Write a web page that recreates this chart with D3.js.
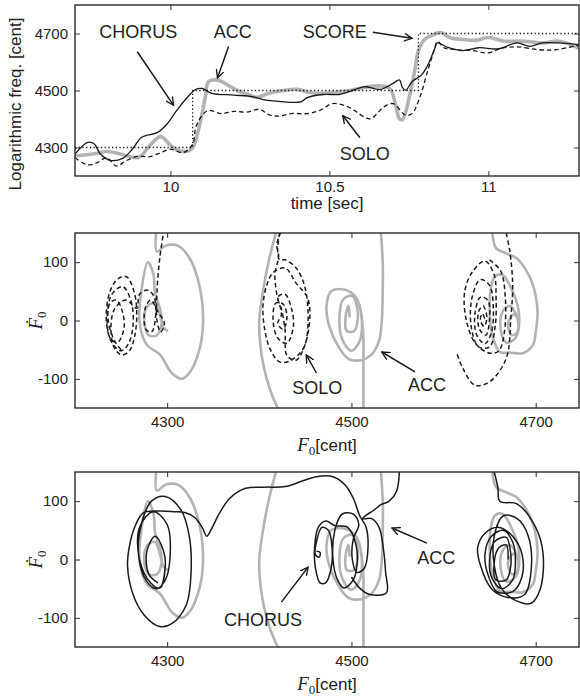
<!DOCTYPE html>
<html>
<head>
<meta charset="utf-8">
<script src="https://cdn.jsdelivr.net/npm/d3@7"></script>
<style>
  body { margin: 0; background: #fff; }
  svg { font-family: "Liberation Sans", Arial, sans-serif; }
  .tick text { font-size: 15px; fill: #222; font-family: "Liberation Sans", Arial, sans-serif; }
  .tick line { stroke: #333; stroke-width: 1; }
  .note { font-size: 18px; fill: #222; text-anchor: middle; dominant-baseline: central; }
</style>
</head>
<body>
<script>
// ---- data ----
var timeTicks = [10, 10.5, 11];
var centTicks = [4300, 4500, 4700];
var velTicks = [-100, 0, 100];
var f0Ticks = [4300, 4500, 4700];

// score: note start times and pitch (step)
var scoreSteps = [[9.7, 4300], [10.07, 4500], [10.78, 4700], [11.285, 4700]];

var accTime = [[9.70,4270],[9.76,4278],[9.80,4286],[9.86,4272],[9.90,4265],[9.94,4313],[9.97,4338],[10.00,4308],[10.02,4292],[10.05,4286],[10.07,4299],
  [10.09,4370],[10.11,4477],[10.12,4531],[10.15,4536],[10.19,4513],[10.22,4495],[10.25,4484],[10.27,4476],[10.31,4490],[10.35,4499],
  [10.40,4504],[10.43,4495],[10.47,4490],[10.52,4494],[10.56,4499],[10.61,4511],[10.66,4516],[10.69,4507],[10.71,4442],[10.72,4401],
  [10.73,4398],[10.75,4470],[10.77,4580],[10.78,4640],[10.80,4680],[10.82,4692],[10.85,4703],[10.88,4685],[10.92,4679],[10.96,4676],
  [11.00,4686],[11.05,4673],[11.11,4673],[11.17,4667],[11.22,4673],[11.26,4661],[11.285,4648]];

var chorusTime = [[9.70,4277],[9.74,4318],[9.76,4313],[9.78,4277],[9.81,4255],[9.85,4262],[9.88,4294],[9.91,4336],[9.96,4353],[9.99,4383],
  [10.02,4430],[10.05,4472],[10.08,4504],[10.10,4507],[10.13,4490],[10.20,4484],[10.26,4478],[10.30,4466],[10.34,4462],[10.41,4460],
  [10.43,4475],[10.48,4486],[10.53,4486],[10.56,4495],[10.61,4513],[10.66,4504],[10.70,4525],[10.72,4537],[10.73,4510],[10.74,4501],
  [10.76,4531],[10.79,4555],[10.81,4590],[10.83,4643],[10.84,4667],[10.87,4652],[10.92,4640],[10.97,4650],[11.03,4646],[11.09,4667],
  [11.13,4655],[11.17,4667],[11.22,4667],[11.285,4661]];

var soloTime = [[9.70,4264],[9.74,4239],[9.77,4247],[9.80,4264],[9.83,4235],[9.86,4253],[9.90,4270],[9.93,4267],[9.97,4282],[10.00,4294],
  [10.04,4282],[10.07,4312],[10.08,4371],[10.10,4413],[10.12,4430],[10.16,4419],[10.20,4427],[10.24,4424],[10.28,4434],[10.31,4415],
  [10.34,4410],[10.38,4419],[10.43,4419],[10.47,4430],[10.51,4454],[10.56,4442],[10.61,4407],[10.63,4401],[10.65,4419],[10.67,4442],
  [10.70,4454],[10.74,4413],[10.76,4419],[10.785,4478],[10.81,4572],[10.83,4643],[10.84,4673],[10.86,4650],[10.90,4643],[10.95,4640],
  [11.00,4632],[11.04,4648],[11.09,4653],[11.16,4643],[11.21,4643],[11.27,4655],[11.285,4658]];

// phase planes: [F0, dF0]; null breaks the trace where it leaves the frame
var accPhase = [
  [4288,150],[4289,118],[4298,128],[4312,128],[4325,105],[4335,60],[4339,0],[4335,-50],[4325,-88],[4316,-100],[4305,-90],[4292,-58],
  [4278,-42],[4270,-2],[4272,50],[4279,100],[4285,80],[4287,45],[4292,22],[4294,-5],[4289,-25],[4280,-25],[4275,0],[4279,25],[4287,30],
  [4292,10],[4296,-12],[4301,-18],
  null,
  [4418,150],[4410,100],[4404,50],[4400,0],[4401,-40],[4405,-80],[4412,-120],[4420,-150],
  null,
  [4532,150],[4534,100],[4534,50],[4533,0],[4530,-35],[4522,-58],[4510,-68],[4497,-66],[4486,-45],[4476,-10],[4473,25],[4478,50],
  [4492,53],[4505,40],[4511,5],[4509,-35],[4500,-52],[4490,-32],[4487,5],[4491,36],[4501,42],[4507,12],[4503,-18],[4495,-18],
  [4494,10],[4497,25],[4498,5],
  null,
  [4511,10],[4513,-30],[4513,-80],[4513,-150],
  null,
  [4653,150],[4657,124],[4668,115],[4679,107],[4690,85],[4697,61],[4702,15],[4700,-20],[4697,-42],[4686,-56],[4672,-55],[4661,-54],
  [4653,-25],[4650,21],[4652,60],[4656,76],[4664,78],[4675,50],[4682,9],[4678,-30],[4668,-38],[4662,-15],[4664,15],[4672,25],
  [4680,5],[4680,-20],[4674,-25],[4670,-5],[4676,10],[4682,0]
];

var soloPhase = [
  [4250,-50],[4243,-35],[4236,0],[4238,30],[4245,35],[4252,12],[4253,-15],[4246,-38],[4238,-30],[4235,5],[4240,45],[4252,58],
  [4261,32],[4263,-8],[4258,-40],[4250,-52],[4240,-38],[4234,0],[4238,50],[4247,72],[4256,75],[4264,50],[4267,15],[4265,-25],
  [4259,-52],[4251,-59],[4243,-48],[4239,-15],[4243,20],[4255,35],[4267,21],[4270,45],[4279,52],[4286,40],[4287,0],[4283,-20],
  [4277,-15],[4276,20],[4282,35],[4290,15],[4297,-5],[4293,-20],[4289,0],[4289,50],[4292,107],[4296,150],
  null,
  [4422,150],[4420,121],[4422,104],[4428,104],[4440,90],[4449,60],[4453,10],[4450,-40],[4444,-56],[4432,-70],[4422,-71],[4412,-50],
  [4406,-16],[4404,24],[4408,60],[4415,82],[4428,90],[4440,64],[4452,40],[4455,12],[4450,-40],[4440,-68],[4430,-60],[4428,-16],
  [4424,20],[4420,40],[4428,45],[4435,20],[4437,-10],[4430,-39],[4420,-30],[4415,0],[4418,30],[4426,28],[4430,5],[4426,-15],
  [4420,-5],[4424,10],[4419,45],[4417,80],[4421,110],[4419,130],[4423,150],
  null,
  [4668,150],[4672,118],[4675,61],[4673,4],[4668,-65],[4650,-105],[4634,-111],[4621,-82],[4614,-54],
  null,
  [4650,104],[4662,85],[4667,40],[4666,-20],[4660,-52],[4650,-56],[4635,-40],[4625,-2],[4623,50],[4632,85],[4645,102],[4655,78],
  [4657,40],[4656,-10],[4650,-45],[4638,-45],[4630,-10],[4631,40],[4640,70],[4650,60],[4654,20],[4652,-20],[4645,-40],[4636,-25],
  [4634,10],[4640,40],[4648,35],[4650,5],[4646,-25],[4639,-15],[4638,15],[4643,25],[4647,5],[4644,-10],[4640,0],[4642,12],[4645,2]
];

var chorusPhase = [
  [4290,-40],[4280,-25],[4278,14],[4287,40],[4296,15],[4298,-10],[4292,-49],[4282,-40],[4270,0],[4270,55],[4285,82],[4300,60],
  [4303,0],[4298,-35],[4289,-50],[4278,-38],[4269,8],[4272,60],[4283,100],[4298,108],[4315,85],[4324,40],[4326,-20],[4321,-77],
  [4305,-110],[4292,-115],[4275,-95],[4263,-60],[4257,-10],[4260,30],[4266,60],[4274,80],[4290,83],[4307,82],[4320,80],[4330,72],
  [4338,55],[4343,40],[4348,52],[4357,80],[4368,105],[4385,122],[4405,124],[4428,125],[4446,134],[4462,142],[4480,142],[4493,128],
  [4502,105],[4509,75],
  [4516,55],[4518,20],[4514,-15],[4506,-22],[4501,0],[4502,35],[4508,60],[4502,78],[4490,78],[4482,50],[4480,0],[4485,-35],
  [4492,-49],[4502,-35],[4506,-10],[4505,25],[4496,55],[4482,58],[4472,66],[4464,55],[4460,20],[4461,-15],[4466,-40],[4472,-40],
  [4478,-15],[4479,20],[4475,50],[4468,55],[4462,30],[4461,8],[4465,4],[4466,12],[4462,14],
  null,
  [4500,-30],[4509,-49],[4520,-60],[4538,-57],[4537,-20],[4535,15],[4530,55],[4522,70],[4512,70],[4516,76],[4524,84],[4532,94],
  [4541,100],[4549,117],[4552,150],
  null,
  [4655,150],[4659,123],[4661,100],[4680,95],[4700,55],[4708,10],[4705,-50],[4695,-75],[4678,-70],[4663,-50],[4655,-10],[4655,40],
  [4665,75],[4680,70],[4692,40],[4695,-20],[4688,-60],[4670,-65],[4652,-50],[4640,-10],[4637,20],[4645,45],[4660,55],[4675,40],
  [4685,10],[4685,-30],[4675,-55],[4658,-55],[4648,-25],[4645,10],[4652,40],[4665,50],[4675,30],[4678,0],[4675,-35],[4663,-50],
  [4652,-30],[4650,0],[4655,30],[4668,38],[4672,20],[4673,-10],[4668,-35],[4657,-35],[4655,-5],[4660,20],[4668,25],[4670,0]
];

// annotations: label position and arrow in data units
var timeNotes = [
  {label: "CHORUS", at: [9.899, 4704], from: [9.896, 4636], to: [10.010, 4448]},
  {label: "ACC", at: [10.196, 4704], from: [10.183, 4654], to: [10.148, 4544]},
  {label: "SCORE", at: [10.517, 4704], from: [10.637, 4704], to: [10.760, 4683]},
  {label: "SOLO", at: [10.611, 4278], from: [10.596, 4334], to: [10.542, 4412]}
];
var soloNotes = [
  {label: "SOLO", at: [4463, -116], from: [4462, -90], to: [4451, -59]},
  {label: "ACC", at: [4582, -111], from: [4569, -88], to: [4533, -54]}
];
var chorusNotes = [
  {label: "CHORUS", at: [4404, -104], from: [4424, -73], to: [4453, -13]},
  {label: "ACC", at: [4592, 3], from: [4582, 28], to: [4544, 54]}
];

// ---- layout ----
var w = 580, h = 697;
var left = 75, right = 579;
var GRAY = "#b3b3b3", INK = "#1a1a1a";
var plain = function (d) { return String(d); };

var svg = d3.select("body").append("svg").attr("width", w).attr("height", h);

svg.append("defs").append("marker")
  .attr("id", "arr").attr("viewBox", "0 -5 10 10").attr("refX", 9).attr("refY", 0)
  .attr("markerWidth", 9).attr("markerHeight", 9).attr("markerUnits", "userSpaceOnUse")
  .attr("orient", "auto")
  .append("path").attr("d", "M0,-4.5L9,0L0,4.5").attr("fill", "none").attr("stroke", INK).attr("stroke-width", 1.5);

function makePanel(id, x, y, xTicks, yTicks, xPad) {
  var g = svg.append("g");
  var x0 = x.range()[0], x1 = x.range()[1], yb = y.range()[0], yt = y.range()[1];
  g.append("clipPath").attr("id", id).append("rect")
    .attr("x", x0).attr("y", yt).attr("width", x1 - x0).attr("height", yb - yt);

  g.append("g").attr("transform", "translate(0," + yb + ")")
    .call(d3.axisBottom(x).tickValues(xTicks).tickSizeInner(-5).tickSizeOuter(0).tickPadding(xPad).tickFormat(plain));
  g.append("g").attr("transform", "translate(0," + yt + ")")
    .call(d3.axisTop(x).tickValues(xTicks).tickSizeInner(-5).tickSizeOuter(0).tickFormat(""));
  g.append("g").attr("transform", "translate(" + x0 + ",0)")
    .call(d3.axisLeft(y).tickValues(yTicks).tickSizeInner(-5).tickSizeOuter(0).tickPadding(7).tickFormat(plain));
  g.append("g").attr("transform", "translate(" + x1 + ",0)")
    .call(d3.axisRight(y).tickValues(yTicks).tickSizeInner(-5).tickSizeOuter(0).tickFormat(""));
  g.selectAll(".domain").remove();

  var plot = g.append("g").attr("clip-path", "url(#" + id + ")");
  g.append("rect").attr("x", x0).attr("y", yt).attr("width", x1 - x0).attr("height", yb - yt)
    .attr("fill", "none").attr("stroke", "#2a2a2a").attr("stroke-width", 1.4);
  return {g: g, plot: plot};
}

function addNotes(g, x, y, notes) {
  notes.forEach(function (n) {
    g.append("text").attr("class", "note").attr("x", x(n.at[0])).attr("y", y(n.at[1])).text(n.label);
    g.append("line")
      .attr("x1", x(n.from[0])).attr("y1", y(n.from[1]))
      .attr("x2", x(n.to[0])).attr("y2", y(n.to[1]))
      .attr("stroke", INK).attr("stroke-width", 1.5).attr("marker-end", "url(#arr)");
  });
}

// ---- panel 1: time series ----
var xT = d3.scaleLinear().domain([9.7, 11.285]).range([left, right]);
var yC = d3.scaleLinear().domain([4200, 4800]).range([176, 5]);
var p1 = makePanel("c1", xT, yC, timeTicks, centTicks, 5);

var tLine = d3.line().x(function (d) { return xT(d[0]); }).y(function (d) { return yC(d[1]); })
  .curve(d3.curveCatmullRom.alpha(0.5));

p1.plot.append("path").datum(accTime).attr("d", tLine)
  .attr("fill", "none").attr("stroke", GRAY).attr("stroke-width", 3.6).attr("stroke-linejoin", "round");
p1.plot.append("path").datum(scoreSteps)
  .attr("d", d3.line().x(function (d) { return xT(d[0]); }).y(function (d) { return yC(d[1]); }).curve(d3.curveStepAfter))
  .attr("fill", "none").attr("stroke", INK).attr("stroke-width", 1.3).attr("stroke-dasharray", "1.3,2.4");
p1.plot.append("path").datum(soloTime).attr("d", tLine)
  .attr("fill", "none").attr("stroke", INK).attr("stroke-width", 1.3).attr("stroke-dasharray", "4.5,3");
p1.plot.append("path").datum(chorusTime).attr("d", tLine)
  .attr("fill", "none").attr("stroke", INK).attr("stroke-width", 1.3);
addNotes(p1.g, xT, yC, timeNotes);

p1.g.append("text").attr("x", (left + right) / 2).attr("y", 209)
  .attr("text-anchor", "middle").attr("font-size", 17).attr("fill", "#222").text("time [sec]");
p1.g.append("text").attr("transform", "translate(21,104) rotate(-90)")
  .attr("text-anchor", "middle").attr("font-size", 17).attr("fill", "#222").text("Logarithmic freq. [cent]");

// ---- panels 2 & 3: phase planes ----
var xF = d3.scaleLinear().domain([4200, 4747]).range([left, right]);
var y2 = d3.scaleLinear().domain([-150, 150]).range([408, 233]);
var y3 = d3.scaleLinear().domain([-150, 150]).range([647, 472]);

function phaseLine(y) {
  return d3.line().defined(function (d) { return d; })
    .x(function (d) { return xF(d[0]); }).y(function (d) { return y(d[1]); })
    .curve(d3.curveCatmullRom.alpha(0.5));
}

function phaseLabels(g, yAxisScale, xLabelY) {
  var cy = (yAxisScale.range()[0] + yAxisScale.range()[1]) / 2;
  var t = g.append("text").attr("transform", "translate(42," + cy + ") rotate(-90)")
    .attr("text-anchor", "middle").attr("fill", "#222");
  t.append("tspan").attr("font-family", "'Liberation Serif', 'DejaVu Serif', serif")
    .attr("font-style", "italic").attr("font-size", 19).text("\u1E1E");
  t.append("tspan").attr("font-family", "'Liberation Serif', 'DejaVu Serif', serif")
    .attr("font-size", 13).attr("dy", 4).text("0");

  var xl = g.append("text").attr("x", 327).attr("y", xLabelY).attr("text-anchor", "middle").attr("fill", "#222");
  xl.append("tspan").attr("font-family", "'Liberation Serif', 'DejaVu Serif', serif")
    .attr("font-style", "italic").attr("font-size", 19).text("F");
  xl.append("tspan").attr("font-family", "'Liberation Serif', 'DejaVu Serif', serif")
    .attr("font-size", 13).attr("dy", 4).text("0");
  xl.append("tspan").attr("font-size", 17).attr("dy", -4).text("[cent]");
}

var p2 = makePanel("c2", xF, y2, f0Ticks, velTicks, 8);
p2.plot.append("path").datum(accPhase).attr("d", phaseLine(y2))
  .attr("fill", "none").attr("stroke", GRAY).attr("stroke-width", 2.6).attr("stroke-linejoin", "round");
p2.plot.append("path").datum(soloPhase).attr("d", phaseLine(y2))
  .attr("fill", "none").attr("stroke", INK).attr("stroke-width", 1.5).attr("stroke-dasharray", "4.5,3");
addNotes(p2.g, xF, y2, soloNotes);
phaseLabels(p2.g, y2, 451);

var p3 = makePanel("c3", xF, y3, f0Ticks, velTicks, 8);
p3.plot.append("path").datum(accPhase).attr("d", phaseLine(y3))
  .attr("fill", "none").attr("stroke", GRAY).attr("stroke-width", 2.6).attr("stroke-linejoin", "round");
p3.plot.append("path").datum(chorusPhase).attr("d", phaseLine(y3))
  .attr("fill", "none").attr("stroke", INK).attr("stroke-width", 1.5);
addNotes(p3.g, xF, y3, chorusNotes);
phaseLabels(p3.g, y3, 690);
</script>
</body>
</html>
